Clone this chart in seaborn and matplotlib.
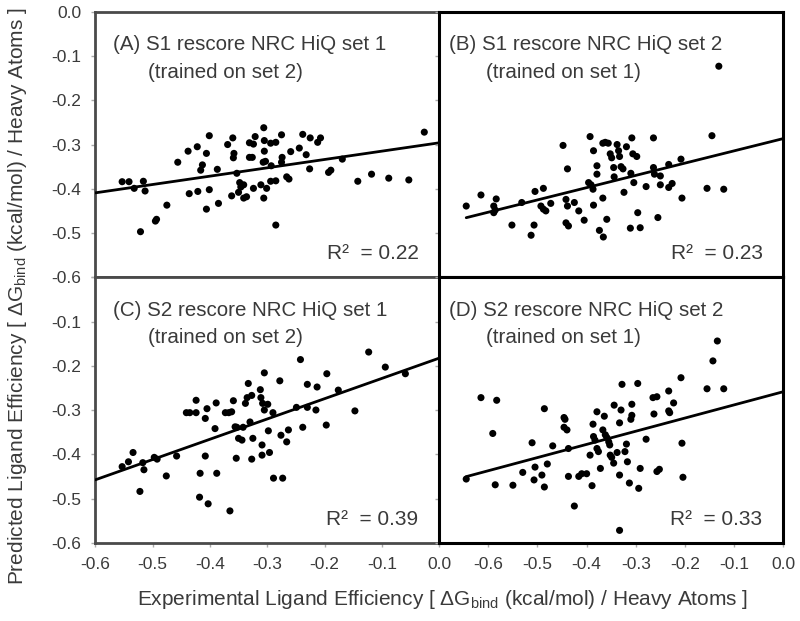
import numpy as np
import pandas as pd
import matplotlib
matplotlib.use("Agg")
import matplotlib.pyplot as plt
import seaborn as sns

# Panel A: S1 rescore, NRC HiQ set 1
a_x = [-0.553, -0.541, -0.532, -0.516, -0.513, -0.521, -0.495, -0.493, -0.475, -0.456,
       -0.438, -0.422, -0.401, -0.406, -0.413, -0.416, -0.436, -0.421, -0.401, -0.406,
       -0.387, -0.385, -0.369, -0.360, -0.358, -0.359, -0.362, -0.353, -0.348, -0.346,
       -0.341, -0.350, -0.341, -0.336, -0.331, -0.326, -0.331, -0.324, -0.321, -0.324,
       -0.306, -0.305, -0.305, -0.307, -0.303, -0.306, -0.311, -0.301, -0.294, -0.285,
       -0.293, -0.294, -0.285, -0.285, -0.275, -0.274, -0.275, -0.266, -0.262, -0.259,
       -0.244, -0.238, -0.232, -0.226, -0.225, -0.212, -0.207, -0.193, -0.189, -0.169,
       -0.142, -0.118, -0.088, -0.053, -0.026]
a_y = [-0.384, -0.384, -0.399, -0.383, -0.405, -0.497, -0.473, -0.469, -0.437, -0.340,
       -0.315, -0.305, -0.280, -0.320, -0.346, -0.358, -0.411, -0.406, -0.402, -0.446,
       -0.356, -0.433, -0.300, -0.285, -0.320, -0.330, -0.416, -0.365, -0.386, -0.396,
       -0.391, -0.408, -0.421, -0.418, -0.329, -0.329, -0.296, -0.299, -0.282, -0.399,
       -0.262, -0.291, -0.315, -0.340, -0.338, -0.421, -0.391, -0.399, -0.297, -0.295,
       -0.348, -0.383, -0.382, -0.482, -0.278, -0.329, -0.340, -0.373, -0.378, -0.316,
       -0.308, -0.277, -0.323, -0.355, -0.285, -0.295, -0.285, -0.363, -0.358, -0.333,
       -0.383, -0.367, -0.376, -0.380, -0.272]

# Panel B: S1 rescore, NRC HiQ set 2
b_x = [-0.645, -0.615, -0.589, -0.586, -0.584, -0.589, -0.552, -0.532, -0.513, -0.507,
       -0.505, -0.488, -0.493, -0.488, -0.483, -0.473, -0.442, -0.439, -0.442, -0.437,
       -0.425, -0.416, -0.405, -0.448, -0.439, -0.393, -0.386, -0.396, -0.391, -0.387,
       -0.386, -0.379, -0.379, -0.374, -0.366, -0.367, -0.359, -0.367, -0.362, -0.356,
       -0.352, -0.349, -0.345, -0.344, -0.338, -0.335, -0.333, -0.330, -0.326, -0.324,
       -0.319, -0.311, -0.310, -0.308, -0.306, -0.304, -0.298, -0.296, -0.291, -0.279,
       -0.264, -0.264, -0.262, -0.255, -0.250, -0.250, -0.233, -0.233, -0.226, -0.208,
       -0.206, -0.155, -0.145, -0.131, -0.121]
b_y = [-0.439, -0.414, -0.439, -0.448, -0.423, -0.454, -0.482, -0.431, -0.505, -0.482,
       -0.406, -0.399, -0.439, -0.446, -0.450, -0.433, -0.424, -0.439, -0.477, -0.484,
       -0.431, -0.450, -0.471, -0.302, -0.355, -0.282, -0.314, -0.386, -0.391, -0.401,
       -0.437, -0.348, -0.367, -0.494, -0.509, -0.421, -0.469, -0.297, -0.295, -0.297,
       -0.321, -0.330, -0.352, -0.373, -0.300, -0.314, -0.327, -0.350, -0.355, -0.408,
       -0.305, -0.489, -0.365, -0.285, -0.321, -0.386, -0.327, -0.454, -0.488, -0.395,
       -0.285, -0.352, -0.367, -0.465, -0.371, -0.391, -0.345, -0.397, -0.388, -0.333,
       -0.421, -0.399, -0.280, -0.123, -0.401]

# Panel C: S2 rescore, NRC HiQ set 1
c_x = [-0.553, -0.542, -0.534, -0.517, -0.515, -0.522, -0.497, -0.492, -0.476, -0.458,
       -0.441, -0.435, -0.424, -0.424, -0.417, -0.418, -0.403, -0.408, -0.405, -0.408,
       -0.391, -0.389, -0.388, -0.373, -0.367, -0.362, -0.365, -0.359, -0.356, -0.353,
       -0.354, -0.350, -0.344, -0.342, -0.338, -0.333, -0.335, -0.330, -0.327, -0.325,
       -0.327, -0.312, -0.311, -0.308, -0.305, -0.299, -0.305, -0.309, -0.309, -0.298,
       -0.296, -0.290, -0.289, -0.273, -0.278, -0.276, -0.266, -0.263, -0.249, -0.242,
       -0.238, -0.230, -0.230, -0.215, -0.213, -0.197, -0.196, -0.176, -0.147, -0.123,
       -0.094, -0.059]
c_y = [-0.428, -0.417, -0.396, -0.419, -0.435, -0.484, -0.407, -0.411, -0.449, -0.404,
       -0.306, -0.306, -0.306, -0.278, -0.443, -0.497, -0.512, -0.404, -0.297, -0.319,
       -0.342, -0.284, -0.443, -0.306, -0.306, -0.304, -0.528, -0.279, -0.338, -0.339,
       -0.409, -0.364, -0.368, -0.339, -0.285, -0.240, -0.272, -0.327, -0.267, -0.364,
       -0.411, -0.254, -0.272, -0.285, -0.300, -0.287, -0.216, -0.379, -0.402, -0.347,
       -0.396, -0.306, -0.454, -0.454, -0.234, -0.357, -0.372, -0.345, -0.294, -0.186,
       -0.339, -0.242, -0.294, -0.300, -0.248, -0.334, -0.218, -0.255, -0.302, -0.169,
       -0.203, -0.218]

# Panel D: S2 rescore, NRC HiQ set 2
d_x = [-0.645, -0.615, -0.591, -0.586, -0.583, -0.550, -0.530, -0.511, -0.505, -0.491,
       -0.507, -0.486, -0.486, -0.480, -0.469, -0.446, -0.444, -0.446, -0.440, -0.437,
       -0.437, -0.425, -0.416, -0.410, -0.400, -0.393, -0.389, -0.387, -0.386, -0.383,
       -0.379, -0.379, -0.376, -0.372, -0.367, -0.362, -0.359, -0.355, -0.364, -0.353,
       -0.352, -0.349, -0.345, -0.344, -0.338, -0.333, -0.333, -0.330, -0.328, -0.322,
       -0.319, -0.317, -0.313, -0.294, -0.310, -0.308, -0.308, -0.296, -0.291, -0.279,
       -0.265, -0.257, -0.233, -0.263, -0.257, -0.252, -0.233, -0.231, -0.223, -0.208,
       -0.206, -0.204, -0.155, -0.143, -0.134, -0.121, -0.333]
d_y = [-0.456, -0.272, -0.353, -0.469, -0.278, -0.470, -0.441, -0.374, -0.429, -0.447,
       -0.458, -0.474, -0.297, -0.422, -0.381, -0.317, -0.321, -0.339, -0.345, -0.387,
       -0.450, -0.517, -0.450, -0.444, -0.444, -0.402, -0.471, -0.332, -0.360, -0.368,
       -0.304, -0.387, -0.394, -0.432, -0.345, -0.356, -0.362, -0.372, -0.314, -0.379,
       -0.402, -0.407, -0.420, -0.289, -0.396, -0.329, -0.447, -0.300, -0.242, -0.394,
       -0.377, -0.417, -0.465, -0.477, -0.321, -0.312, -0.287, -0.240, -0.432, -0.366,
       -0.272, -0.270, -0.257, -0.309, -0.439, -0.434, -0.302, -0.306, -0.284, -0.227,
       -0.375, -0.452, -0.252, -0.189, -0.144, -0.252, -0.572]

titles = ["(A) S1 rescore NRC HiQ set 1", "(B) S1 rescore NRC HiQ set 2",
          "(C) S2 rescore NRC HiQ set 1", "(D) S2 rescore NRC HiQ set 2"]
subtitles = ["(trained on set 2)", "(trained on set 1)",
             "(trained on set 2)", "(trained on set 1)"]
r2_labels = ["0.22", "0.23", "0.39", "0.33"]
tick_vals = [-0.6, -0.5, -0.4, -0.3, -0.2, -0.1, 0.0]
tick_text = ["-0.6", "-0.5", "-0.4", "-0.3", "-0.2", "-0.1", "0.0"]

sns.set_theme(style="white")
plt.rcParams["font.family"] = ["Liberation Sans", "DejaVu Sans"]
plt.rcParams["axes.unicode_minus"] = False
plt.rcParams["mathtext.fontset"] = "custom"
plt.rcParams["mathtext.rm"] = "Liberation Sans"
plt.rcParams["mathtext.it"] = "Liberation Sans"

text_col = "#3a3a3a"

fig, axes = plt.subplots(2, 2, figsize=(8, 6.21), dpi=100)
fig.subplots_adjust(left=0.119, right=0.979, top=0.981, bottom=0.126, wspace=0, hspace=0)

panels = [(a_x, a_y), (b_x, b_y), (c_x, c_y), (d_x, d_y)]
for i, (ax, (xs, ys)) in enumerate(zip(axes.flat, panels)):
    df = pd.DataFrame({"x": xs, "y": ys})
    right_col = i % 2 == 1
    bottom_row = i >= 2
    x_left = -0.7 if right_col else -0.6

    sns.scatterplot(data=df, x="x", y="y", ax=ax, color="black", s=26,
                    edgecolor="none", zorder=3)

    # least-squares trend line, from the data (or axis edge) out to 0
    slope, icpt = np.polyfit(df["x"], df["y"], 1)
    x0 = max(x_left, min(df["x"].min(), -0.6))
    lx = np.array([x0, 0.0])
    ax.plot(lx, slope * lx + icpt, color="black", lw=2, zorder=4)

    ax.set_xlim(x_left, 0.0)
    ax.set_ylim(-0.6, 0.0)
    ax.set_xlabel("")
    ax.set_ylabel("")

    ax.set_xticks(tick_vals)
    if bottom_row:
        ax.set_xticklabels(tick_text, fontsize=12.5, color=text_col)
    else:
        ax.set_xticklabels([])
    ax.set_yticks(tick_vals)
    if right_col:
        ax.set_yticklabels([])
    elif bottom_row:
        ax.set_yticklabels(tick_text[:-1] + [""], fontsize=12.5, color=text_col)
    else:
        ax.set_yticklabels(tick_text, fontsize=12.5, color=text_col)
    ax.tick_params(axis="both", which="both", direction="out", length=3, width=1,
                   color="#aaaaaa", pad=7, bottom=True, left=True)

    spine_col = "black" if right_col else "#4a4a4a"
    for sp in ax.spines.values():
        sp.set_visible(True)
        sp.set_color(spine_col)
        sp.set_linewidth(2.2 if right_col else 2)

    off1, off2 = (0.029, 0.136) if right_col else (0.052, 0.154)
    ax.text(off1, 0.875, titles[i], transform=ax.transAxes, fontsize=14.8,
            color=text_col, va="center", ha="left")
    ax.text(off2, 0.772, subtitles[i], transform=ax.transAxes, fontsize=14.8,
            color=text_col, va="center", ha="left")
    ax.text(0.94, 0.088, "R\u00b2  = " + r2_labels[i], transform=ax.transAxes,
            fontsize=15, color=text_col, va="center", ha="right")

fig.text(0.553, 0.034,
         r"Experimental Ligand Efficiency [ $\Delta$G$_{\mathrm{bind}}$ (kcal/mol) / Heavy Atoms ]",
         ha="center", va="center", fontsize=15, color=text_col)
fig.text(0.022, 0.523,
         r"Predicted Ligand Efficiency [ $\Delta$G$_{\mathrm{bind}}$ (kcal/mol) / Heavy Atoms ]",
         ha="center", va="center", rotation=90, fontsize=15, color=text_col)

fig.savefig("out.png", dpi=100)
